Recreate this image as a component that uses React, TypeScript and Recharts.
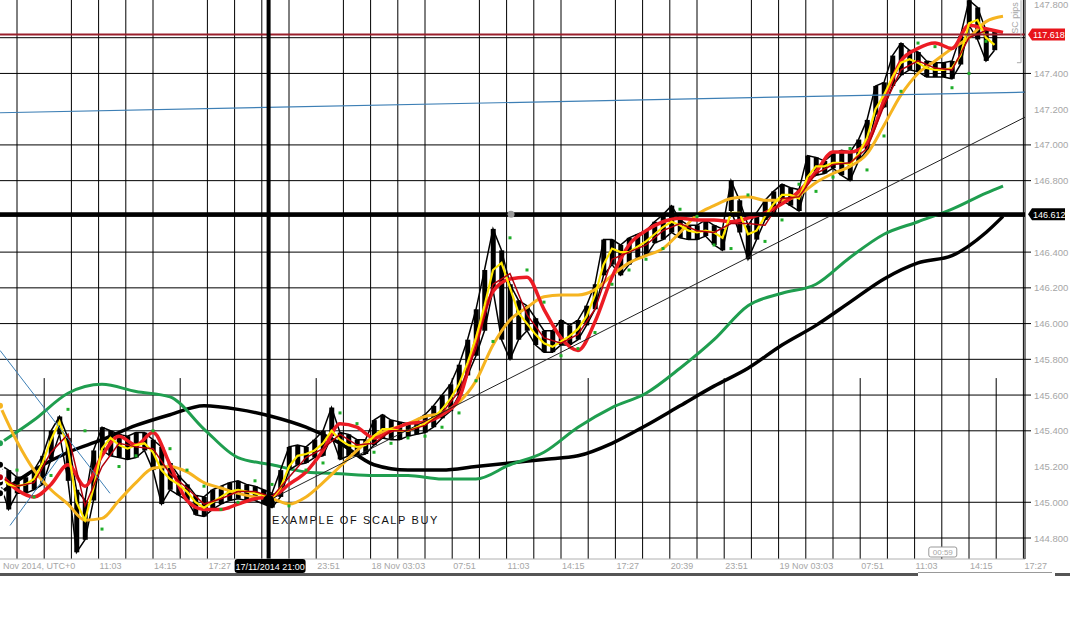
import React from 'react';
import { ComposedChart, Bar, Line, Scatter, XAxis, YAxis, ReferenceLine, ReferenceDot } from 'recharts';

// x = hours since 17 Nov 2014 06:15 UTC
const X_MIN = -1;
const X_MAX = 59.294;
const Y_MIN = 144.6825;
const Y_MAX = 147.811;

// price bars, every 0.5 h starting at h = -1
const PRICE_HIGH = [
  145.21,145.18,145.14,145.14,145.18,145.26,145.40,145.48,145.36,145.07,
  145.01,145.29,145.42,145.40,145.38,145.37,145.39,145.39,145.35,145.31,
  145.22,145.15,145.10,145.04,145.03,145.07,145.09,145.11,145.12,145.10,
  145.09,145.07,145.05,145.18,145.31,145.32,145.31,145.35,145.40,145.53,
  145.39,145.38,145.35,145.35,145.46,145.49,145.46,145.45,145.44,145.46,
  145.49,145.54,145.60,145.66,145.77,145.91,146.08,146.30,146.53,146.41,
  146.22,146.13,146.10,146.03,145.96,145.96,146.02,145.99,146.02,146.10,
  146.22,146.47,146.47,146.44,146.48,146.50,146.52,146.57,146.61,146.66,
  146.58,146.55,146.55,146.58,146.55,146.53,146.80,146.69,146.55,146.62,
  146.69,146.74,146.78,146.76,146.75,146.94,146.93,146.91,146.95,146.97,
  146.96,147.03,147.14,147.33,147.35,147.50,147.57,147.53,147.52,147.47,
  147.46,147.46,147.47,147.61,147.81,147.77,147.64,147.64,
];
const PRICE_LOW = [
  145.11,144.96,145.05,145.05,145.07,145.10,145.24,145.38,145.12,144.72,
  144.79,145.01,145.29,145.26,145.25,145.24,145.25,145.29,145.18,144.99,
  145.07,145.04,145.01,144.93,144.92,144.96,144.99,145.01,145.02,145.01,
  145.01,144.99,144.97,145.03,145.18,145.21,145.22,145.25,145.26,145.37,
  145.24,145.26,145.26,145.27,145.32,145.36,145.35,145.35,145.37,145.38,
  145.39,145.42,145.47,145.51,145.60,145.71,145.82,145.96,146.19,145.91,
  145.80,145.91,145.96,145.88,145.84,145.84,145.88,145.88,145.91,145.99,
  146.08,146.27,146.33,146.27,146.33,146.37,146.38,146.45,146.47,146.51,
  146.48,146.47,146.47,146.49,146.44,146.41,146.63,146.51,146.36,146.47,
  146.58,146.62,146.69,146.66,146.63,146.80,146.83,146.84,146.87,146.83,
  146.80,146.91,146.97,147.17,147.21,147.33,147.39,147.42,147.41,147.38,
  147.38,147.38,147.37,147.45,147.67,147.59,147.47,147.53,
];
const FAST_YELLOW = [
  145.15,145.10,145.09,145.10,145.13,145.22,145.35,145.45,145.30,145.00,
  144.90,145.08,145.30,145.36,145.32,145.30,145.32,145.33,145.28,145.18,
  145.13,145.10,145.06,145.00,144.97,145.00,145.03,145.06,145.07,145.06,
  145.05,145.04,145.02,145.08,145.20,145.26,145.27,145.29,145.33,145.40,
  145.35,145.32,145.31,145.32,145.37,145.41,145.41,145.40,145.40,145.42,
  145.44,145.47,145.52,145.58,145.66,145.78,145.92,146.10,146.30,146.34,
  146.20,146.06,146.00,145.94,145.89,145.87,145.90,145.93,145.97,146.04,
  146.16,146.33,146.42,146.40,146.40,146.43,146.46,146.50,146.54,146.57,
  146.55,146.52,146.51,146.52,146.51,146.48,146.62,146.62,146.50,146.52,
  146.60,146.67,146.72,146.72,146.70,146.82,146.88,146.88,146.90,146.90,
  146.89,146.95,147.04,147.20,147.28,147.38,147.46,147.48,147.46,147.43,
  147.42,147.42,147.43,147.50,147.68,147.70,147.60,147.56,
];

// hourly series starting at h = -1
const THIN_RED = [
  145.14,145.09,145.11,145.28,145.38,144.98,145.20,145.33,145.31,145.30,145.16,
  145.08,144.99,145.02,145.06,145.06,145.03,145.14,145.25,145.30,145.38,
  145.32,145.33,145.40,145.40,145.43,145.50,145.62,145.86,146.22,146.28,
  146.05,145.92,145.89,145.94,146.08,146.36,146.40,146.44,146.52,146.56,
  146.52,146.51,146.56,146.56,146.55,146.70,146.71,146.84,146.89,146.90,
  146.98,147.22,147.42,147.47,147.43,147.42,147.60,147.64,
];
const SAR_DOTS = [
  145.22,145.18,145.03,145.15,145.52,145.40,144.85,145.20,145.26,145.40,145.30,
  145.18,145.09,144.96,145.00,145.12,145.10,144.98,145.18,145.22,145.50,
  145.44,145.28,145.33,145.36,145.37,145.42,145.50,145.68,145.90,146.48,
  146.30,146.12,145.82,145.86,145.95,146.22,146.30,146.36,146.42,146.64,
  146.60,146.44,146.42,146.72,146.46,146.58,146.78,146.74,146.82,146.98,
  146.86,147.05,147.30,147.57,147.55,147.32,147.40,147.58,
];
const RED_MA = [
  145.16,145.07,145.03,145.10,145.21,145.09,145.26,145.37,145.32,145.39,
  145.21,145.01,144.96,144.96,144.99,145.02,145.03,145.10,145.17,145.29,
  145.44,145.42,145.36,145.40,145.44,145.45,145.49,145.58,145.91,146.18,
  146.25,146.26,146.08,145.92,145.85,146.01,146.26,146.44,146.52,146.57,
  146.59,146.58,146.58,146.57,146.59,146.62,146.67,146.74,146.85,146.96,
  146.96,147.01,147.25,147.47,147.54,147.57,147.54,147.67,147.65,147.63,
];
const ORANGE_MA = [
  145.54,145.34,145.18,145.07,144.99,144.90,144.91,145.01,145.11,145.19,
  145.20,145.17,145.11,145.08,145.05,145.03,145.02,144.99,145.03,145.11,
  145.20,145.29,145.37,145.41,145.44,145.48,145.50,145.56,145.68,145.88,
  146.02,146.09,146.15,146.16,146.16,146.19,146.27,146.34,146.38,146.42,
  146.51,146.61,146.66,146.70,146.71,146.69,146.69,146.72,146.79,146.84,
  146.88,146.95,147.11,147.28,147.40,147.47,147.54,147.60,147.69,147.72,
];

// slow averages
const SLOW_HOURS = [-1,1,3,5,7,9,11,13,15,17,19,21,23,25,27,29,31,33,35,37,39,41,43,45,47,49,51,53,55,57,58];
const GREEN_MA = [
  145.33,145.46,145.61,145.66,145.62,145.59,145.41,145.25,145.21,145.17,
  145.16,145.15,145.15,145.13,145.13,145.21,145.28,145.42,145.53,145.61,
  145.75,145.91,146.10,146.17,146.22,146.37,146.50,146.57,146.64,146.73,146.77,
];
const BLACK_MA = [
  145.05,145.18,145.28,145.35,145.43,145.49,145.54,145.52,145.48,145.42,
  145.33,145.21,145.18,145.18,145.20,145.22,145.24,145.26,145.33,145.43,
  145.54,145.65,145.75,145.88,145.99,146.12,146.25,146.34,146.38,146.51,146.60,
];

// levels and annotations
const BLACK_LEVEL = 146.612;
const BLACK_LEVEL_LABEL = '146.612';
const RED_LEVEL = 147.618;
const RED_LEVEL_LABEL = '117.618';
const CURSOR_H = 14.8;
const CURSOR_LABEL = '17/11/2014 21:00';
const STAMP_H = 54.4;
const STAMP_LABEL = '00:59';
const TREND_BLACK = [{ x: 14.8, y: 145.01 }, { x: 59.29, y: 147.155 }];
const TREND_BLUE_FLAT = [{ x: -1, y: 147.18 }, { x: 59.29, y: 147.295 }];
const TREND_BLUE_A = [{ x: -1, y: 145.85 }, { x: 5.47, y: 145.05 }];
const TREND_BLUE_B = [{ x: -0.41, y: 144.87 }, { x: 2.71, y: 145.28 }];

const Y_TICKS = [144.8,145.0,145.2,145.4,145.6,145.8,146.0,146.2,146.4,146.6,146.8,147.0,147.2,147.4,147.6,147.8];
const Y_NO_GRID = [145.2, 147.2, 147.8];
const X_TICK_HOURS = [-1,4.8,8,11.2,17.6,20.8,25.6,28.8,32,35.2,38.4,41.6,44.8,49.6,52.8,56,59.2];
const X_TICK_LABELS = ['Nov 2014, UTC+0','11:03','14:15','17:27','23:51','18 Nov 03:03','07:51','11:03','14:15','17:27','20:39','23:51','19 Nov 03:03','07:51','11:03','14:15','17:27'];
const GRID_STEP = 1.6;
const GRID_COUNT = 38;
const PARTIAL_GRID_TOP = 145.695;

const rows: any[] = [];
for (let i = 0; i <= 118; i++) {
  const h = -1 + i * 0.5;
  const row: any = { h };
  if (i < PRICE_HIGH.length) {
    row.range = [PRICE_LOW[i], PRICE_HIGH[i]];
    row.hi = PRICE_HIGH[i];
    row.lo = PRICE_LOW[i];
    row.yellow = FAST_YELLOW[i];
  }
  if (Number.isInteger(h)) {
    const j = h + 1;
    if (j < THIN_RED.length) row.thinRed = THIN_RED[j];
    if (j < RED_MA.length) row.red = RED_MA[j];
    if (j < ORANGE_MA.length) row.orange = ORANGE_MA[j];
  }
  const s = SLOW_HOURS.indexOf(h);
  if (s >= 0) {
    row.green = GREEN_MA[s];
    row.black = BLACK_MA[s];
  }
  rows.push(row);
}
const sarPoints = SAR_DOTS.map((v, i) => ({ h: -1 + i, sar: v }));
const gridX = Array.from({ length: GRID_COUNT }, (_, k) => ({ h: +(k * GRID_STEP).toFixed(2), partial: k % 5 === 1 }));
const gridY = Y_TICKS.filter((v) => !Y_NO_GRID.includes(v));

const FONT = "'Liberation Sans', Arial, sans-serif";
const GREY = '#a6a6a6';

const YTick = (p: any) => {
  const { x, y, payload } = p;
  const v = payload.value;
  const ax = x - 8;
  if (v === RED_LEVEL) {
    return (
      <g>
        <polygon points={`${ax + 3},${y} ${ax + 7},${y - 6} ${ax + 40},${y - 6} ${ax + 40},${y + 6} ${ax + 7},${y + 6}`} fill="#e8141b" />
        <text x={ax + 8} y={y + 3.5} fontSize={9} fontFamily={FONT} fill="#fff">{RED_LEVEL_LABEL}</text>
      </g>
    );
  }
  if (v === BLACK_LEVEL) {
    return (
      <g>
        <polygon points={`${ax + 3},${y} ${ax + 7},${y - 6} ${ax + 40},${y - 6} ${ax + 40},${y + 6} ${ax + 7},${y + 6}`} fill="#000" />
        <text x={ax + 8} y={y + 3.5} fontSize={9} fontFamily={FONT} fill="#fff">{BLACK_LEVEL_LABEL}</text>
      </g>
    );
  }
  if (Math.abs(v - 147.6) < 1e-6 || Math.abs(v - 146.6) < 1e-6) return <g />;
  return (
    <g>
      {!Y_NO_GRID.includes(v) && <line x1={ax} x2={ax + 6} y1={y} y2={y} stroke="#000" />}
      <text x={ax + 9} y={Math.max(y + 3.5, 8)} fontSize={9.5} fontFamily={FONT} fill={GREY}>{v.toFixed(3)}</text>
    </g>
  );
};

const XTick = (p: any) => {
  const { x, y, payload } = p;
  const v = payload.value;
  const ay = y - 6;
  if (v === CURSOR_H) {
    return (
      <g>
        <rect x={x - 34} y={ay} width={71} height={14} rx={3} fill="#000" />
        <text x={x + 1.5} y={ay + 10.5} textAnchor="middle" fontSize={9} fontFamily={FONT} fill="#fff">{CURSOR_LABEL}</text>
      </g>
    );
  }
  if (v === STAMP_H) {
    return (
      <g>
        <rect x={x - 13} y={ay - 12} width={28} height={10} rx={2} fill="#fff" stroke="#999" />
        <text x={x + 1} y={ay - 4} textAnchor="middle" fontSize={8} fontFamily={FONT} fill={GREY}>{STAMP_LABEL}</text>
      </g>
    );
  }
  const idx = X_TICK_HOURS.indexOf(v);
  if (idx < 0) return <g />;
  return (
    <text x={x + (idx === 0 ? 3 : 1)} y={ay + 10} fontSize={9} fontFamily={FONT} fill={GREY}>{X_TICK_LABELS[idx]}</text>
  );
};

const SarShape = (p: any) =>
  p.cx == null || p.cy == null ? <g /> : <rect x={p.cx - 1.5} y={p.cy - 1.5} width={3} height={3} fill="#1fae2a" />;

export default function App() {
  return (
    <div style={{ position: 'relative', width: 1070, height: 640, background: '#fff' }}>
      <style>{`body{margin:0;background:#fff}`}</style>
      <ComposedChart width={1070} height={580} data={rows} margin={{ top: 0, right: 0, bottom: 0, left: 0 }}>
        <XAxis
          dataKey="h"
          type="number"
          domain={[X_MIN, X_MAX]}
          allowDataOverflow
          ticks={[...X_TICK_HOURS, STAMP_H, CURSOR_H]}
          interval={0}
          height={21}
          tickSize={4}
          tickMargin={2}
          tickLine={false}
          axisLine={{ stroke: '#b0b0b0' }}
          tick={XTick}
        />
        <YAxis
          orientation="right"
          type="number"
          domain={[Y_MIN, Y_MAX]}
          allowDataOverflow
          ticks={[...Y_TICKS, BLACK_LEVEL, RED_LEVEL]}
          interval={0}
          width={45}
          tickSize={6}
          tickMargin={2}
          tickLine={false}
          axisLine={{ stroke: '#000' }}
          tick={YTick}
        />
        {gridY.map((v) => (
          <ReferenceLine key={'gy' + v} y={v} stroke="#000" strokeWidth={1} />
        ))}
        {gridX.map((g) =>
          g.partial ? (
            <ReferenceLine key={'gx' + g.h} segment={[{ x: g.h, y: Y_MIN }, { x: g.h, y: PARTIAL_GRID_TOP }]} stroke="#000" strokeWidth={1} />
          ) : (
            <ReferenceLine key={'gx' + g.h} x={g.h} stroke="#000" strokeWidth={1} />
          )
        )}
        <Line dataKey="black" type="monotone" stroke="#000" strokeWidth={3.5} dot={false} connectNulls isAnimationActive={false} />
        <Line dataKey="green" type="monotone" stroke="#1f9e4f" strokeWidth={3} dot={false} connectNulls isAnimationActive={false} />
        <Bar dataKey="range" fill="#000" barSize={5} isAnimationActive={false} />
        <Line dataKey="hi" type="linear" stroke="#000" strokeWidth={1.5} dot={false} isAnimationActive={false} />
        <Line dataKey="lo" type="linear" stroke="#000" strokeWidth={1.5} dot={false} isAnimationActive={false} />
        <Line dataKey="orange" type="monotone" stroke="#f6b420" strokeWidth={3} dot={false} connectNulls isAnimationActive={false} />
        <Line dataKey="red" type="monotone" stroke="#ec1c24" strokeWidth={3.5} dot={false} connectNulls isAnimationActive={false} />
        <Line dataKey="yellow" type="linear" stroke="#ffe800" strokeWidth={2.2} dot={false} connectNulls isAnimationActive={false} />
        <Line dataKey="thinRed" type="linear" stroke="#b3000c" strokeWidth={1.5} dot={false} connectNulls isAnimationActive={false} />
        <Scatter data={sarPoints} dataKey="sar" shape={SarShape} isAnimationActive={false} />
        <ReferenceLine segment={TREND_BLACK} stroke="#222" strokeWidth={1} />
        <ReferenceLine segment={TREND_BLUE_FLAT} stroke="#3d7fb5" strokeWidth={1.2} />
        <ReferenceLine segment={TREND_BLUE_A} stroke="#3d7fb5" strokeWidth={1} />
        <ReferenceLine segment={TREND_BLUE_B} stroke="#3d7fb5" strokeWidth={1} />
        <ReferenceLine y={RED_LEVEL} stroke="#9a1f2b" strokeWidth={2} />
        <ReferenceLine y={BLACK_LEVEL} stroke="#000" strokeWidth={4} />
        <ReferenceLine x={CURSOR_H} stroke="#000" strokeWidth={4} />
        <ReferenceLine segment={[{ x: 59.06, y: 147.81 }, { x: 59.06, y: 147.46 }]} stroke="#aaa" strokeWidth={1} />
        <ReferenceLine segment={[{ x: 58.82, y: 147.46 }, { x: 59.06, y: 147.46 }]} stroke="#aaa" strokeWidth={1} />
        <ReferenceDot x={CURSOR_H} y={145.01} r={5.5} fill="#000" stroke="none" />
        <ReferenceDot x={29.06} y={BLACK_LEVEL} r={3.5} fill="#9a9a9a" stroke="none" />
        <ReferenceDot
          x={15.0}
          y={144.9}
          r={0}
          shape={(p: any) => (
            <text x={p.cx} y={p.cy + 4} fontSize={11} fontFamily={FONT} letterSpacing={1.6} fill="#111">EXAMPLE OF SCALP BUY</text>
          )}
        />
        <ReferenceDot
          x={58.76}
          y={147.71}
          r={0}
          shape={(p: any) => (
            <text x={p.cx} y={p.cy} transform={`rotate(-90 ${p.cx} ${p.cy})`} textAnchor="middle" dominantBaseline="middle" fontSize={9} fontFamily={FONT} fill={GREY}>SC pips</text>
          )}
        />
      </ComposedChart>
      <div style={{ position: 'absolute', left: 0, top: 573, width: 918, height: 3, background: '#555' }} />
      <div style={{ position: 'absolute', left: 918, top: 572, width: 134, height: 1, background: '#999' }} />
      <div style={{ position: 'absolute', left: 1055, top: 573, width: 15, height: 3, background: '#555' }} />
    </div>
  );
}
